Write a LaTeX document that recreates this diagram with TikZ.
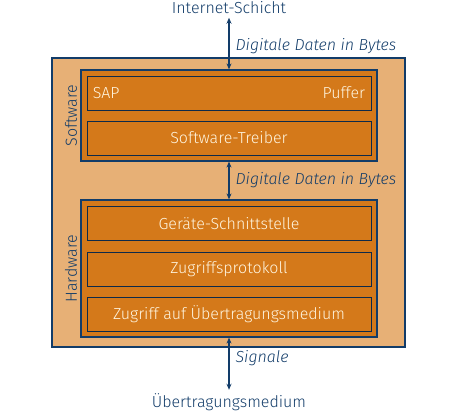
\documentclass[tikz,border=0pt]{standalone}
\usepackage{fontspec}
\setmainfont{Fira Sans}[UprightFont=* Light, ItalicFont=* Light Italic]
\usetikzlibrary{arrows.meta}
\definecolor{box_light}{RGB}{231,176,118}
\definecolor{box_orange}{RGB}{212,121,26}
\definecolor{line_blue}{RGB}{18,60,105}
\definecolor{text_cream}{RGB}{255,246,225}

\begin{document}
\begin{tikzpicture}[x=1pt,y=-1pt,semithick,>={Stealth[length=6pt,width=5pt]}]
    \tikzstyle{outer}=[draw=line_blue, line width=1.2pt, fill=box_light, minimum width=353pt, minimum height=289pt, inner sep=0pt]
    \tikzstyle{layer}=[draw=line_blue, line width=1.2pt, fill=box_orange, minimum width=296pt, inner sep=0pt]
    \tikzstyle{task}=[draw=line_blue!70!black, line width=0.9pt, fill=box_orange, minimum width=284pt, minimum height=34pt, inner sep=0pt, text=text_cream, font=\fontsize{16}{18}\selectfont]
    \tikzstyle{label}=[text=line_blue, font=\fontsize{16}{18}\selectfont]
    \tikzstyle{flow}=[<->, draw=line_blue, line width=1.2pt]

    \useasboundingbox (0,0) rectangle (473,411);

    \node[outer] (stack) at (228.5,202.5) {};
    \node[layer, minimum height=91pt]  (sw) at (229,115.5) {};
    \node[layer, minimum height=137pt] (hw) at (229,268.5) {};

    \node[task] (sap)     at (229,93)    {};
    \node[task] (treiber) at (229,138)   {Software-Treiber};
    \node[task] (geraete) at (229,223.5) {Geräte-Schnittstelle};
    \node[task] (proto)   at (229,269.5) {Zugriffsprotokoll};
    \node[task] (medium)  at (229,314.5) {Zugriff auf Übertragungsmedium};

    \node[text=text_cream, font=\fontsize{16}{18}\selectfont, anchor=west, inner sep=0pt] (sapl) at ([xshift=6pt]sap.west) {SAP};
    \node[text=text_cream, font=\fontsize{16}{18}\selectfont, anchor=east, inner sep=0pt] (puffer) at ([xshift=-6pt]sap.east) {Puffer};

    \node[label, rotate=90] (swl) at (71,115.5) {Software};
    \node[label, rotate=90] (hwl) at (71,268.5) {Hardware};

    \node[label] (inet) at (229,8)   {Internet-Schicht};
    \node[label] (uebm) at (229,402) {Übertragungsmedium};

    \coordinate (d1) at (232,46);
    \coordinate (d2) at (232,180);
    \coordinate (d3) at (232,358);
    \node[label, anchor=west, font=\fontsize{16}{18}\selectfont\itshape] at (d1) {Digitale Daten in Bytes};
    \node[label, anchor=west, font=\fontsize{16}{18}\selectfont\itshape] at (d2) {Digitale Daten in Bytes};
    \node[label, anchor=west, font=\fontsize{16}{18}\selectfont\itshape] at (d3) {Signale};

    \path
     (inet.south) edge[flow] (sw.north)
     (sw.south)   edge[flow] (hw.north)
     (hw.south)   edge[flow] (uebm.north)
     ;
\end{tikzpicture}
\end{document}
